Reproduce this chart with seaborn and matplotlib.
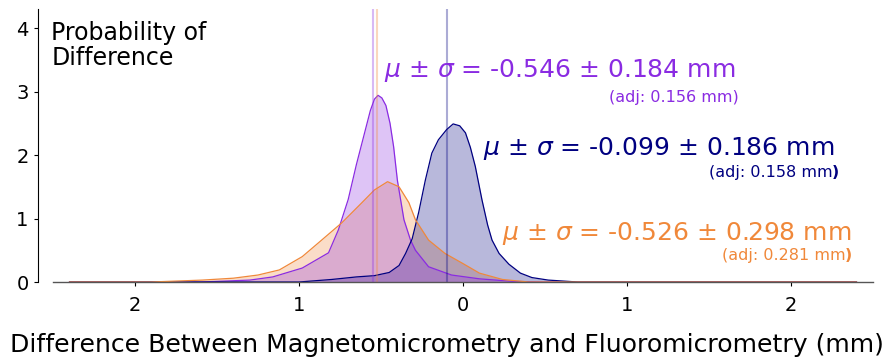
import numpy as np
import pandas as pd
import matplotlib
matplotlib.use("Agg")
import matplotlib.pyplot as plt
import seaborn as sns

# ---- data ----
purple_x = [-2.4, -1.6, -1.3, -1.16, -0.98, -0.82, -0.76, -0.70, -0.65, -0.60, -0.565, -0.54, -0.518,
            -0.495, -0.47, -0.445, -0.423, -0.40, -0.36, -0.32, -0.29, -0.21, -0.07, 0.1, 0.3, 0.5, 2.4]
purple_y = [0, 0.0, 0.03, 0.08, 0.22, 0.46, 0.82, 1.3, 1.85, 2.35, 2.7, 2.88, 2.94,
            2.9, 2.78, 2.5, 2.13, 1.6, 0.98, 0.66, 0.5, 0.24, 0.11, 0.05, 0.01, 0.0, 0]

navy_x = [-2.4, -1.0, -0.8, -0.65, -0.54, -0.45, -0.39, -0.35, -0.31, -0.27, -0.23, -0.19, -0.15,
          -0.1, -0.06, -0.02, 0.015, 0.045, 0.075, 0.116, 0.15, 0.177, 0.22, 0.28, 0.35, 0.42, 0.52,
          0.7, 2.4]
navy_y = [0, 0, 0.04, 0.08, 0.1, 0.15, 0.26, 0.45, 0.68, 1.1, 1.6, 2.03, 2.24,
          2.4, 2.49, 2.46, 2.35, 2.12, 1.82, 1.29, 0.9, 0.66, 0.45, 0.28, 0.14, 0.07, 0.03, 0.0, 0]

orange_x = [-2.4, -1.9, -1.59, -1.4, -1.25, -1.12, -0.98, -0.88, -0.74, -0.62, -0.54, -0.46,
            -0.39, -0.33, -0.29, -0.21, -0.11, 0.0, 0.1, 0.24, 0.4, 2.4]
orange_y = [0, 0.0, 0.03, 0.06, 0.11, 0.19, 0.4, 0.62, 0.93, 1.24, 1.45, 1.58,
            1.5, 1.25, 0.98, 0.66, 0.45, 0.29, 0.14, 0.04, 0.0, 0]

series_names = ["purple", "navy", "orange"]
means = [-0.546, -0.099, -0.526]
sds = [0.184, 0.186, 0.298]
adjs = [0.156, 0.158, 0.281]
colors = ["#8a2be2", "#000080", "#f0883a"]

xticks = [-2, -1, 0, 1, 2]
xtick_labels = ["2", "1", "0", "1", "2"]
yticks = [0, 1, 2, 3, 4]

xlabel = "Difference Between Magnetomicrometry and Fluoromicrometry (mm)"
ylabel_text = "Probability of\nDifference"

# ---- build long table ----
frames = []
for name, xs, ys in zip(series_names, [purple_x, navy_x, orange_x], [purple_y, navy_y, orange_y]):
    frames.append(pd.DataFrame({"x": xs, "density": ys, "series": name}))
df = pd.concat(frames, ignore_index=True)

sns.set_theme(style="white")
plt.rcParams["font.family"] = ["DejaVu Sans"]
plt.rcParams["mathtext.fontset"] = "dejavusans"
plt.rcParams["text.color"] = "black"
plt.rcParams["axes.labelcolor"] = "black"

fig = plt.figure(figsize=(8.94, 3.6), dpi=100)
ax = fig.add_axes([53 / 894, 78 / 360, 820 / 894, 273 / 360])

palette = dict(zip(series_names, colors))
order_draw = ["orange", "navy", "purple"]
for name in order_draw:
    sub = df[df["series"] == name]
    ax.fill_between(sub["x"], sub["density"], color=palette[name], alpha=0.28, lw=0)
sns.lineplot(data=df, x="x", y="density", hue="series", palette=palette,
             sort=False, estimator=None, lw=0.9, legend=False, ax=ax)

for m, c in zip(means, colors):
    ax.axvline(m, color=c, alpha=0.33, lw=1.5)

ax.set_xlim(-2.5, 2.5)
ax.set_ylim(0, 4.3)
ax.set_xticks(xticks)
ax.set_xticklabels(xtick_labels)
ax.set_yticks(yticks)
ax.tick_params(axis="both", labelsize=14, length=3, width=0.8, colors="black",
               bottom=True, left=True, direction="out")
ax.tick_params(axis="x", pad=7)
ax.set_xlabel(xlabel, fontsize=18.1, color="black")
ax.xaxis.label.set_va("baseline")
ax.xaxis.set_label_coords((446.5 - 53) / 820, (360 - 352 - 78) / 273)
ax.set_ylabel("")

for s in ["top", "right"]:
    ax.spines[s].set_visible(False)
ax.spines["left"].set_position(("outward", 11))
ax.spines["left"].set_color("black")
ax.spines["left"].set_linewidth(0.8)
ax.spines["bottom"].set_color("#555555")
ax.spines["bottom"].set_linewidth(1.0)

ax.text(-2.51, 3.73, ylabel_text, fontsize=17, ha="left", va="center", linespacing=1.05,
        color="black")

# annotation positions (data coords, baseline)
main_pos = [(1.66, 3.224), (2.262, 2.0), (2.37, 0.661)]
adj_pos = [(1.683, 2.84), (2.293, 1.658), (2.37, 0.346)]
bold_paren = [False, True, True]
for m, s, a, c, mp, ap, bp in zip(means, sds, adjs, colors, main_pos, adj_pos, bold_paren):
    ax.text(mp[0], mp[1], rf"$\mu$ ± $\sigma$ = {m:.3f} ± {s:.3f} mm", color=c,
            fontsize=18, ha="right", va="baseline")
    if bp:
        ax.annotate(")", xy=ap, ha="right", va="baseline", fontsize=11.5,
                    fontweight="bold", color=c)
        ax.annotate(f"(adj: {a:.3f} mm", xy=ap, xytext=(-4.6, 0), textcoords="offset points",
                    ha="right", va="baseline", fontsize=11.5, color=c)
    else:
        ax.text(ap[0], ap[1], f"(adj: {a:.3f} mm)", color=c, fontsize=11.5,
                ha="right", va="baseline")

fig.savefig("out.png", dpi=100)
